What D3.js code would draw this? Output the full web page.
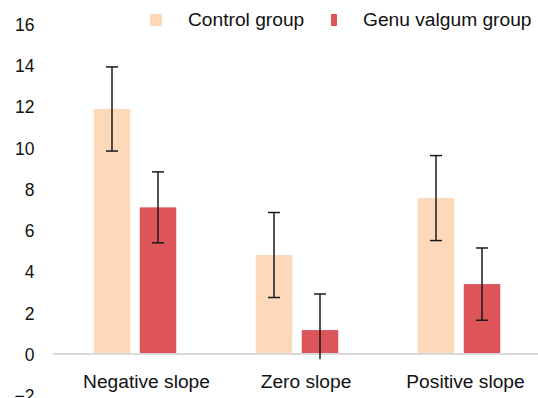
<!DOCTYPE html>
<html>
<head>
<meta charset="utf-8">
<script src="https://cdn.jsdelivr.net/npm/d3@7"></script>
<style>
  html, body { margin: 0; padding: 0; background: #fff; }
  svg { display: block; }
</style>
</head>
<body>
<svg id="chart" width="538" height="398"></svg>
<script>
const categories = ["Negative slope", "Zero slope", "Positive slope"];
const seriesNames = ["Control group", "Genu valgum group"];
const controlValues = [11.88, 4.80, 7.56];
const genuValues = [7.11, 1.16, 3.39];
const controlSD = [2.04, 2.06, 2.06];
const genuSD = [1.72, 1.75, 1.75];
const yTicks = [-2, 0, 2, 4, 6, 8, 10, 12, 14, 16];
const colors = ["#fdd9b9", "#dd5558"];

const FONT = "'Liberation Sans', Arimo, Arial, sans-serif";

const svg = d3.select("#chart");
const W = 538, H = 398;
const plot = { left: 54, right: 540 };

const y = d3.scaleLinear().domain([0, 16]).range([354, 24]);
const x0 = d3.scaleBand().domain(categories).range([plot.left, plot.right]).paddingInner(0).paddingOuter(0);
const x1 = d3.scaleBand().domain(seriesNames).range([0, x0.bandwidth()]).paddingInner(0.2065).paddingOuter(0.864);
// category label positions (Excel places them slightly right of the bar clusters)
const xLabel = d3.scalePoint().domain(categories).range([146, 465]);

const data = categories.map((c, i) => ({
  cat: c,
  vals: [
    { s: seriesNames[0], v: controlValues[i], sd: controlSD[i], color: colors[0] },
    { s: seriesNames[1], v: genuValues[i], sd: genuSD[i], color: colors[1] }
  ]
}));

// Y tick labels
const yAxis = d3.axisLeft(y).tickValues(yTicks).tickSize(0).tickPadding(0).tickFormat(d3.format("d"));
const yg = svg.append("g").attr("transform", "translate(34.5,0)").call(yAxis);
yg.select(".domain").remove();
yg.selectAll("text").attr("fill", "#111").attr("dy", "0.36em")
  .style("font-family", FONT).style("font-size", "17.5px");

// Bars
const groups = svg.append("g").selectAll("g").data(data).join("g")
  .attr("transform", d => `translate(${x0(d.cat)},0)`);
groups.selectAll("rect").data(d => d.vals).join("rect")
  .attr("x", d => x1(d.s))
  .attr("width", x1.bandwidth())
  .attr("y", d => y(Math.max(0, d.v)))
  .attr("height", d => Math.abs(y(d.v) - y(0)))
  .attr("fill", d => d.color);

// Zero axis line
const xAxis = d3.axisBottom(x0).tickSize(0).tickPadding(0).tickFormat(() => "");
const xg = svg.append("g").attr("transform", `translate(0,${y(0)})`).call(xAxis);
xg.select(".domain").attr("stroke", "#d9d9d9").attr("stroke-width", 2)
  .attr("d", `M${plot.left - 1},0H${plot.right}`);

// Category labels
const labelAxis = d3.axisBottom(xLabel).tickSize(0).tickPadding(0);
const lg = svg.append("g").attr("transform", `translate(0,${y(0)})`).call(labelAxis);
lg.select(".domain").remove();
lg.selectAll(".tick text").attr("dy", 0).attr("y", 34).attr("fill", "#111")
  .style("font-family", FONT).style("font-size", "19.2px");

// Error bars (clipped at the plot floor)
const clipBottom = -0.25;
svg.append("clipPath").attr("id", "plotclip").append("rect")
  .attr("x", 0).attr("width", W).attr("y", 0).attr("height", y(clipBottom));
const eg = svg.append("g").attr("clip-path", "url(#plotclip)");
const capHalf = 6;
data.forEach(d => {
  d.vals.forEach(v => {
    const cx = x0(d.cat) + x1(v.s) + x1.bandwidth() / 2;
    const g = eg.append("g").attr("stroke", "#1a1a1a").attr("stroke-width", 1.5);
    g.append("line").attr("x1", cx).attr("x2", cx).attr("y1", y(v.v + v.sd)).attr("y2", y(v.v - v.sd));
    g.append("line").attr("x1", cx - capHalf).attr("x2", cx + capHalf).attr("y1", y(v.v + v.sd)).attr("y2", y(v.v + v.sd));
    g.append("line").attr("x1", cx - capHalf).attr("x2", cx + capHalf).attr("y1", y(v.v - v.sd)).attr("y2", y(v.v - v.sd));
  });
});

// Legend
const legend = svg.append("g");
const legendItems = [
  { name: seriesNames[0], color: colors[0], sx: 150, sw: 12, tx: 188 },
  { name: seriesNames[1], color: colors[1], sx: 331, sw: 6, tx: 363 }
];
legendItems.forEach(it => {
  legend.append("rect").attr("x", it.sx).attr("y", 14).attr("width", it.sw).attr("height", 12).attr("fill", it.color);
  legend.append("text").attr("x", it.tx).attr("y", 26).attr("fill", "#111")
    .style("font-family", FONT).style("font-size", "19.2px").text(it.name);
});
</script>
</body>
</html>
